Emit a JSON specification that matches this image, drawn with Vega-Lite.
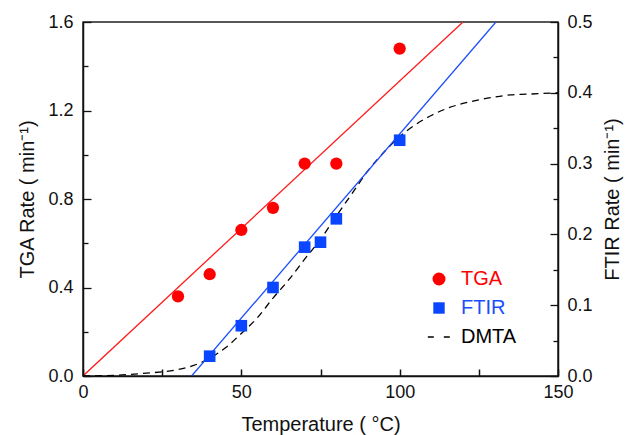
{
  "$schema": "https://vega.github.io/schema/vega-lite/v6.json",
  "width": 475,
  "height": 354,
  "autosize": {"type": "none"},
  "padding": {"left": 83, "top": 22, "right": 72, "bottom": 59},
  "background": "white",
  "config": {
    "font": "Liberation Sans",
    "view": {"stroke": "#222222", "strokeWidth": 1.5},
    "axis": {
      "domainColor": "#111111",
      "domainWidth": 1.5,
      "tickColor": "#111111",
      "tickWidth": 1.3,
      "labelFont": "Liberation Sans",
      "labelFontSize": 18,
      "labelColor": "#111111",
      "titleFont": "Liberation Sans",
      "titleFontSize": 20,
      "titleFontWeight": "normal",
      "titleColor": "#111111",
      "grid": false
    }
  },
  "datasets": {
    "tga": [
      {"T": 30, "rate": 0.36, "series": "TGA"},
      {"T": 40, "rate": 0.46, "series": "TGA"},
      {"T": 50, "rate": 0.66, "series": "TGA"},
      {"T": 60, "rate": 0.76, "series": "TGA"},
      {"T": 70, "rate": 0.96, "series": "TGA"},
      {"T": 80, "rate": 0.96, "series": "TGA"},
      {"T": 100, "rate": 1.48, "series": "TGA"}
    ],
    "tgaFit": [
      {"T": 0, "rate": 0},
      {"T": 120, "rate": 1.6}
    ],
    "ftir": [
      {"T": 40, "rate": 0.028, "series": "FTIR"},
      {"T": 50, "rate": 0.071, "series": "FTIR"},
      {"T": 60, "rate": 0.125, "series": "FTIR"},
      {"T": 70, "rate": 0.182, "series": "FTIR"},
      {"T": 75, "rate": 0.189, "series": "FTIR"},
      {"T": 80, "rate": 0.222, "series": "FTIR"},
      {"T": 100, "rate": 0.333, "series": "FTIR"}
    ],
    "ftirFit": [
      {"T": 34.3, "rate": 0},
      {"T": 130.4, "rate": 0.5}
    ],
    "dmta": [
      {"T": 0, "rate": 0.0, "series": "DMTA"},
      {"T": 10, "rate": 0.001, "series": "DMTA"},
      {"T": 20, "rate": 0.004, "series": "DMTA"},
      {"T": 30, "rate": 0.009, "series": "DMTA"},
      {"T": 35, "rate": 0.015, "series": "DMTA"},
      {"T": 40, "rate": 0.025, "series": "DMTA"},
      {"T": 45, "rate": 0.04, "series": "DMTA"},
      {"T": 50, "rate": 0.06, "series": "DMTA"},
      {"T": 55, "rate": 0.082, "series": "DMTA"},
      {"T": 60, "rate": 0.11, "series": "DMTA"},
      {"T": 65, "rate": 0.136, "series": "DMTA"},
      {"T": 70, "rate": 0.165, "series": "DMTA"},
      {"T": 75, "rate": 0.193, "series": "DMTA"},
      {"T": 80, "rate": 0.226, "series": "DMTA"},
      {"T": 85, "rate": 0.258, "series": "DMTA"},
      {"T": 90, "rate": 0.29, "series": "DMTA"},
      {"T": 95, "rate": 0.316, "series": "DMTA"},
      {"T": 100, "rate": 0.338, "series": "DMTA"},
      {"T": 105, "rate": 0.355, "series": "DMTA"},
      {"T": 110, "rate": 0.368, "series": "DMTA"},
      {"T": 115, "rate": 0.378, "series": "DMTA"},
      {"T": 120, "rate": 0.385, "series": "DMTA"},
      {"T": 125, "rate": 0.39, "series": "DMTA"},
      {"T": 130, "rate": 0.394, "series": "DMTA"},
      {"T": 135, "rate": 0.397, "series": "DMTA"},
      {"T": 140, "rate": 0.398, "series": "DMTA"},
      {"T": 145, "rate": 0.399, "series": "DMTA"},
      {"T": 150, "rate": 0.4, "series": "DMTA"}
    ]
  },
  "encoding": {
    "x": {
      "field": "T",
      "type": "quantitative",
      "scale": {"domain": [0, 150], "nice": false, "zero": false},
      "axis": {
        "title": "Temperature ( °C)",
        "values": [0, 25, 50, 75, 100, 125, 150],
        "labelExpr": "datum.value % 50 === 0 ? datum.label : ''",
        "format": "d",
        "tickSize": -7,
        "tickColor": "#111111",
        "tickWidth": 1.5,
        "zindex": 2,
        "labelPadding": 14,
        "labelFlush": false,
        "titlePadding": 13
      }
    }
  },
  "layer": [
    {
      "encoding": {
        "y": {
          "field": "rate",
          "type": "quantitative",
          "scale": {"domain": [0, 1.6], "nice": false, "zero": false},
          "axis": {
            "title": "TGA Rate ( min⁻¹)",
            "orient": "left",
            "values": [0, 0.2, 0.4, 0.6, 0.8, 1.0, 1.2, 1.4, 1.6],
            "format": ".1f",
            "labelExpr": "round(datum.value * 10) % 4 === 0 ? datum.label : ''",
            "tickSize": -8,
            "tickDash": {"condition": {"test": "round(datum.value * 10) % 4 === 0", "value": [8, 0]}, "value": [5, 20]},
            "labelPadding": 18,
            "labelFlush": false,
            "titlePadding": 10
          }
        }
      },
      "layer": [
        {
          "data": {"name": "tgaFit"},
          "mark": {"type": "line", "color": "#ff1a1a", "strokeWidth": 1.3, "clip": true},
          "encoding": {}
        },
        {
          "data": {"name": "tga"},
          "mark": {"type": "point", "filled": true, "opacity": 1, "size": 150, "shape": "circle"},
          "encoding": {
            "color": {
              "field": "series",
              "type": "nominal",
              "scale": {"domain": ["TGA", "FTIR", "DMTA"], "range": ["#ff0000", "#0a46ff", "#000000"]},
              "legend": {
                "title": null,
                "orient": "none",
                "legendX": 346,
                "legendY": 247,
                "labelFontSize": 20,
                "labelFont": "Liberation Sans",
                "labelOffset": 12,
                "rowPadding": 9,
                "padding": 0,
                "labelColor": {"expr": "datum.value === 'TGA' ? '#ff0000' : datum.value === 'FTIR' ? '#1a4dff' : '#000000'"},
                "symbolType": {"expr": "datum.value === 'TGA' ? 'circle' : datum.value === 'FTIR' ? 'square' : 'stroke'"},
                "symbolSize": {"expr": "datum.value === 'DMTA' ? 500 : datum.value === 'FTIR' ? 130 : 169"},
                "symbolStrokeColor": {"expr": "datum.value === 'DMTA' ? '#000000' : 'transparent'"},
                "symbolStrokeWidth": 1.3,
                "symbolDash": {"expr": "datum.value === 'DMTA' ? [6, 10] : [1, 0]"},
                "symbolOpacity": 1
              }
            }
          }
        }
      ]
    },
    {
      "encoding": {
        "y": {
          "field": "rate",
          "type": "quantitative",
          "scale": {"domain": [0, 0.5], "nice": false, "zero": false},
          "axis": {
            "title": "FTIR Rate ( min⁻¹)",
            "orient": "right",
            "values": [0, 0.05, 0.1, 0.15, 0.2, 0.25, 0.3, 0.35, 0.4, 0.45, 0.5],
            "format": ".1f",
            "labelExpr": "round(datum.value * 100) % 10 === 0 ? datum.label : ''",
            "tickSize": -8,
            "tickDash": {"condition": {"test": "round(datum.value * 100) % 10 === 0", "value": [8, 0]}, "value": [5, 20]},
            "labelPadding": 17,
            "labelFlush": false,
            "titleAngle": 270,
            "titleBaseline": "top",
            "titlePadding": 10
          }
        }
      },
      "layer": [
        {
          "data": {"name": "dmta"},
          "mark": {"type": "line", "color": "#000000", "strokeWidth": 1.3, "strokeDash": [7, 5], "interpolate": "monotone"},
          "encoding": {}
        },
        {
          "data": {"name": "ftirFit"},
          "mark": {"type": "line", "color": "#1a4dff", "strokeWidth": 1.3, "clip": true},
          "encoding": {}
        },
        {
          "data": {"name": "ftir"},
          "mark": {"type": "point", "filled": true, "opacity": 1, "size": 135, "shape": "square", "color": "#0a46ff"},
          "encoding": {}
        }
      ]
    }
  ],
  "resolve": {"scale": {"y": "independent"}}
}
